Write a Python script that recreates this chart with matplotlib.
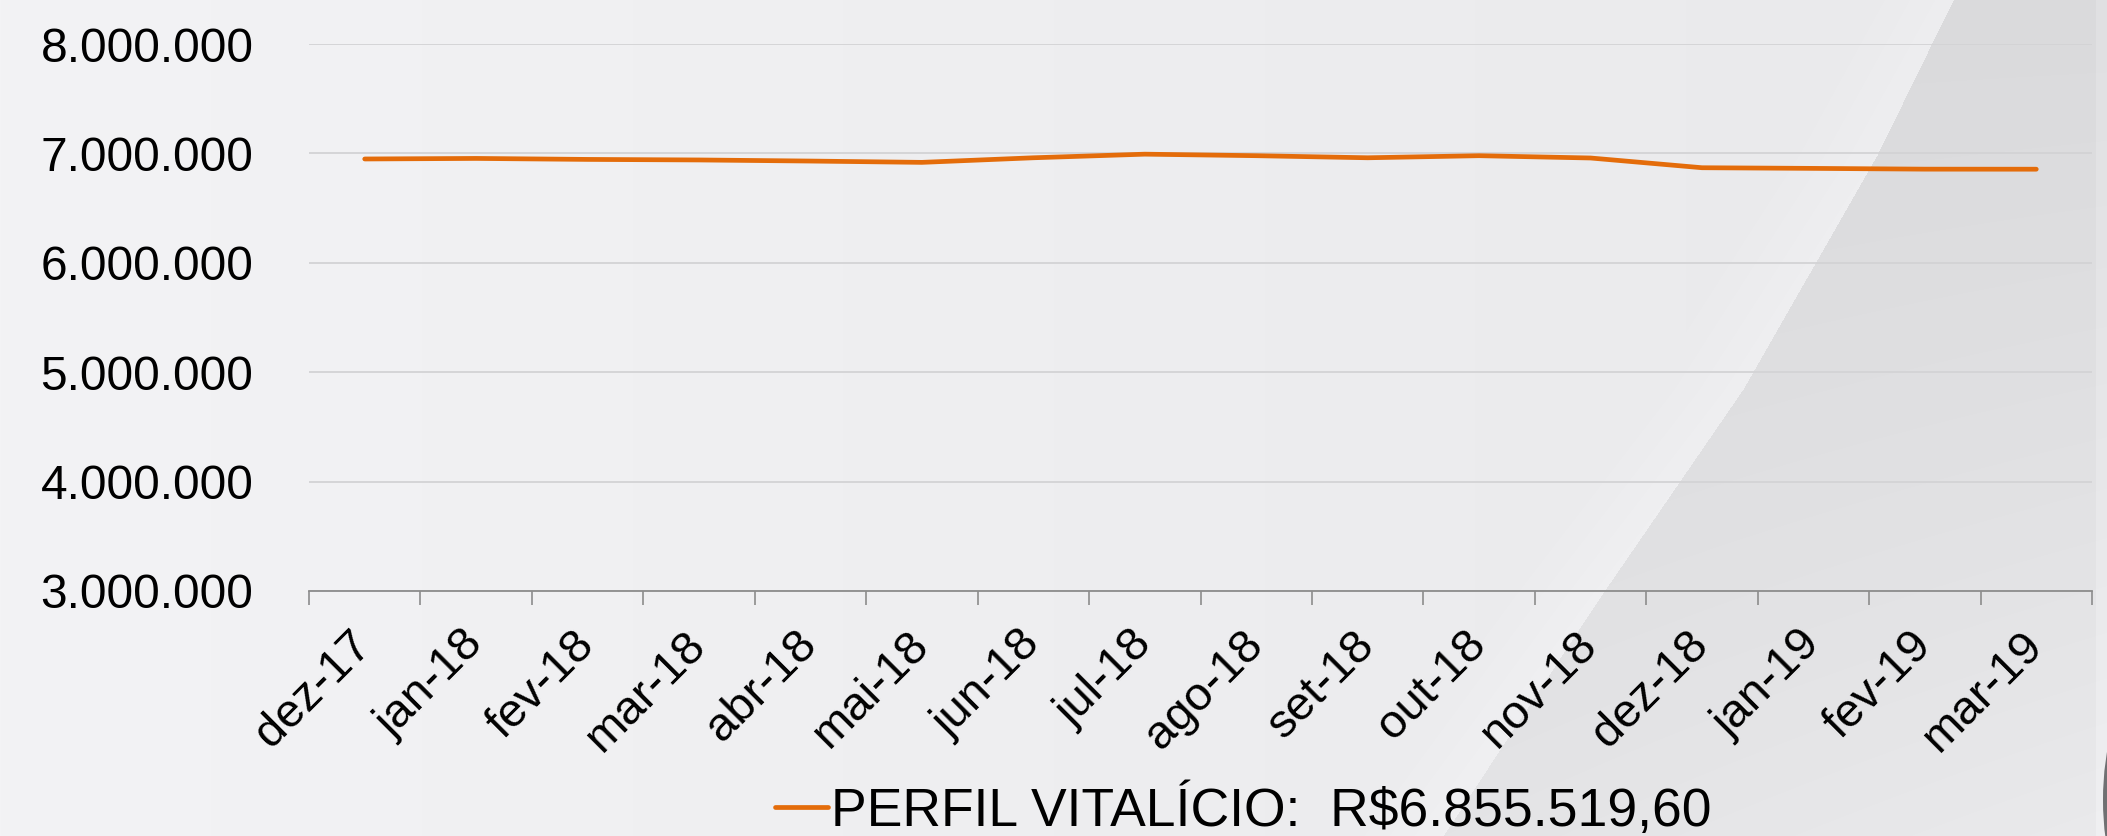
import numpy as np
import matplotlib.pyplot as plt
from matplotlib.patches import Ellipse
from matplotlib.ticker import FuncFormatter

# dados
meses = ['dez-17', 'jan-18', 'fev-18', 'mar-18', 'abr-18', 'mai-18', 'jun-18', 'jul-18',
         'ago-18', 'set-18', 'out-18', 'nov-18', 'dez-18', 'jan-19', 'fev-19', 'mar-19']
vitalicio = [6949000, 6954000, 6945000, 6940000, 6930000, 6918000, 6960000, 6993000,
             6979000, 6960000, 6979000, 6958000, 6869000, 6863000, 6856000, 6855519.60]
rotulo = 'PERFIL VITALÍCIO:  R$6.855.519,60'

plt.rcParams['font.family'] = ['Liberation Sans', 'DejaVu Sans']

W, H = 2107, 836
fig = plt.figure(figsize=(W / 100, H / 100), dpi=100)

# fundo cinza com faixa diagonal
yy, xx = np.mgrid[0:H, 0:W].astype(float)
borda = np.interp(yy, [0, 155, 389, 597, 836], [1953, 1877, 1743, 1600, 1443])
val = 243 - 10 * (xx / W)
val = np.where(xx > borda, 218 + 10 * (yy / H) + 6 * np.clip((xx - borda) / 700, 0, 1) * (yy / H), val)
faixa = (xx <= borda) & (xx > borda - 90)
val = np.where(faixa, val + 4 * (1 - (borda - xx) / 90), val)
val = np.where(xx > 2095, val + 6, val)
img = np.stack([val, val, val + 2], axis=-1).clip(0, 255) / 255
bg = fig.add_axes([0, 0, 1, 1])
bg.imshow(img, aspect='auto', extent=(0, W, H, 0))
bg.add_patch(Ellipse((2136, 800), 66, 200, color='#5a5a5c', alpha=0.85, lw=0))
bg.set_xlim(0, W)
bg.set_ylim(H, 0)
bg.axis('off')

ax = fig.add_axes([309 / W, 1 - 591 / H, (2092 - 309) / W, (591 - 44) / H])
ax.patch.set_alpha(0)

x = np.arange(len(meses))
ax.plot(x, vitalicio, color='#E46C0A', lw=3.4, solid_capstyle='round', solid_joinstyle='round',
        label=rotulo, zorder=3)

ax.set_xlim(-0.5, len(meses) - 0.5)
ax.set_ylim(3000000, 8000000)
ax.set_yticks(np.arange(3000000, 8000001, 1000000))
ax.yaxis.set_major_formatter(FuncFormatter(lambda v, p: f'{v:,.0f}'.replace(',', '.')))
ax.tick_params(axis='y', length=0, pad=40, labelsize=34.5)
ax.grid(axis='y', color='#d3d3d5', lw=1.3)
ax.set_axisbelow(True)

ax.set_xticks(np.arange(-0.5, len(meses)), [''] * (len(meses) + 1))
ax.set_xticks(x, meses, minor=True)
ax.tick_params(axis='x', which='major', length=10, width=1.2, color='#8c8c8c')
ax.tick_params(axis='x', which='minor', length=0, pad=34, labelsize=34)
for t in ax.get_xticklabels(minor=True):
    t.set_rotation(45)
    t.set_rotation_mode('anchor')
    t.set_ha('right')
    t.set_va('center')

for s in ['top', 'right', 'left']:
    ax.spines[s].set_visible(False)
ax.spines['bottom'].set_color('#8c8c8c')
ax.spines['bottom'].set_linewidth(1.3)

fig.legend(loc='center', bbox_to_anchor=(0.59, 1 - 810 / H), frameon=False, fontsize=38.5,
           handlelength=1.0, handletextpad=0.05, borderpad=0, borderaxespad=0)

fig.savefig('out.png', dpi=100)
